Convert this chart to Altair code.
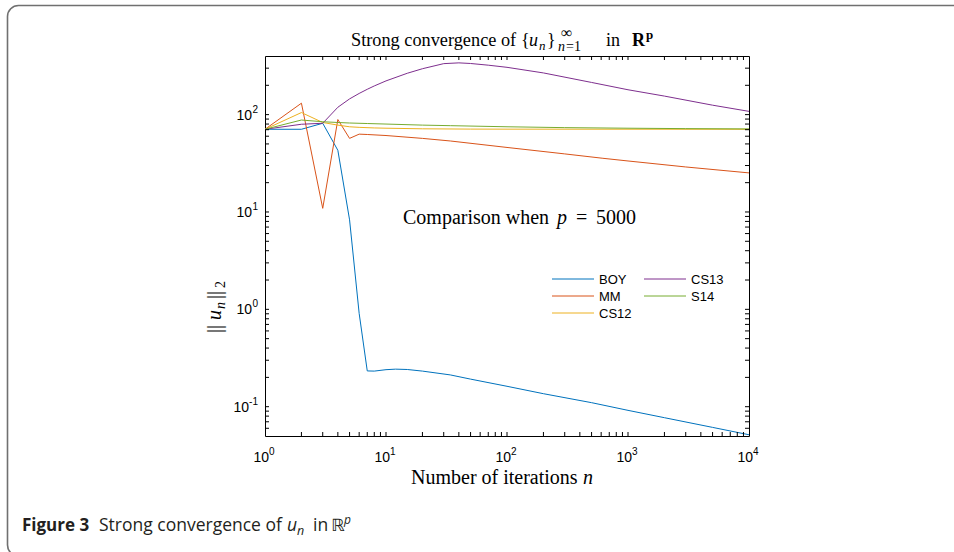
import altair as alt
import pandas as pd

# ---------------- data ----------------
names = ["BOY", "MM", "CS12", "CS13", "S14"]
colors = ["#0072BD", "#D95319", "#EDB120", "#7E2F8E", "#77AC30"]

n_boy = [1, 2, 3, 4, 5, 6, 7, 8, 10, 12, 15, 20, 34, 50, 100, 200, 500, 1000, 2000, 5000, 10000]
v_boy = [70.7, 70.7, 81.5, 43, 8.3, 0.91, 0.233, 0.232, 0.24, 0.243, 0.241, 0.232, 0.212,
         0.192, 0.162, 0.136, 0.110, 0.0917, 0.0771, 0.0613, 0.0515]

n_mm = [1, 2, 3, 4, 5, 6, 7, 10, 20, 34, 100, 300, 620, 1000, 3000, 10000]
v_mm = [70.7, 131, 10.9, 89, 57, 63, 62.5, 61, 57, 53.6, 46, 39.5, 35.6, 33.4, 29, 25.2]

n_cs12 = [1, 2, 3, 4, 5, 6, 8, 10, 20, 50, 100, 1000, 10000]
v_cs12 = [70.7, 105, 83, 78, 75, 74, 73, 72.5, 71.5, 71, 70.9, 70.8, 70.7]

n_cs13 = [1, 2, 3, 4, 5, 6, 7, 8, 10, 15, 20, 30, 40, 50, 70, 100, 200, 500, 1000, 2000, 5000, 10000]
v_cs13 = [70.7, 79.6, 81.5, 119, 145, 165, 182, 197, 222, 266, 296, 334, 340, 335, 322, 306,
          268, 214, 180, 155, 125, 108]

n_s14 = [1, 2, 3, 4, 5, 7, 10, 20, 34, 100, 300, 1000, 3000, 10000]
v_s14 = [70.7, 88, 84.5, 83, 82, 81, 80, 78, 77, 75, 73.5, 72.5, 71.8, 71.3]

x_exps = [0, 1, 2, 3, 4]
y_exps = [-1, 0, 1, 2]

# ---------------- build ----------------
W, H = 484, 380
xs = alt.Scale(type="log", domain=[1, 10000])
ys = alt.Scale(type="log", domain=[0.05, 400])

series = [("BOY", n_boy, v_boy), ("MM", n_mm, v_mm), ("CS12", n_cs12, v_cs12),
          ("CS13", n_cs13, v_cs13), ("S14", n_s14, v_s14)]
rows = []
for si, (nm, ns, vs) in enumerate(series):
    for i, (n, v) in enumerate(zip(ns, vs)):
        rows.append({"series": nm, "n": n, "v": v, "o": i, "s": si})
df = pd.DataFrame(rows)

layers = []
for si, (nm, ns, vs) in enumerate(series):
    layers.append(
        alt.Chart(df[df.series == nm]).mark_line(strokeWidth=1, clip=True, color=colors[si]).encode(
            x=alt.X("n:Q", scale=xs, axis=None),
            y=alt.Y("v:Q", scale=ys, axis=None),
            order="o:Q",
        )
    )

x_ticks = [m * 10 ** k for k in range(4) for m in range(1, 10)][1:]
y_ticks = [round(m * 10.0 ** k, 4) for k in range(-2, 3) for m in range(1, 10)]
y_ticks = [t for t in y_ticks if 0.05 < t < 400]
xt = pd.DataFrame({"t": x_ticks})
yt = pd.DataFrame({"t": y_ticks})
TL = 4
for (y1, y2) in [(H, H - TL), (0, TL)]:
    layers.append(alt.Chart(xt).mark_rule(color="black", strokeWidth=1).encode(
        x=alt.X("t:Q", scale=xs, axis=None), y=alt.value(y1), y2=alt.value(y2)))
for (x1, x2) in [(0, TL), (W, W - TL)]:
    layers.append(alt.Chart(yt).mark_rule(color="black", strokeWidth=1).encode(
        y=alt.Y("t:Q", scale=ys, axis=None), x=alt.value(x1), x2=alt.value(x2)))

SANS = "Liberation Sans"
SERIF = "Liberation Serif"
CAP = "Open Sans"

xl = pd.DataFrame({"e": x_exps, "val": [10.0 ** e for e in x_exps], "es": [str(e) for e in x_exps]})
layers.append(alt.Chart(xl).mark_text(align="right", baseline="alphabetic", dx=4, font=SANS, fontSize=14, color="black").encode(
    x=alt.X("val:Q", scale=xs, axis=None), y=alt.value(H + 26), text=alt.value("10")))
layers.append(alt.Chart(xl).mark_text(align="left", baseline="alphabetic", dx=4, font=SANS, fontSize=10, color="black").encode(
    x=alt.X("val:Q", scale=xs, axis=None), y=alt.value(H + 19), text="es:N"))

yl = pd.DataFrame({"e": y_exps, "val": [10.0 ** e for e in y_exps], "es": [str(e) for e in y_exps]})
yl_pos = yl[yl.e >= 0]
yl_neg = yl[yl.e < 0]
for sub, off in [(yl_pos, -13), (yl_neg, -16)]:
    layers.append(alt.Chart(sub).mark_text(align="right", baseline="middle", dy=1, font=SANS, fontSize=14, color="black").encode(
        y=alt.Y("val:Q", scale=ys, axis=None), x=alt.value(off), text=alt.value("10")))
layers.append(alt.Chart(yl).mark_text(align="right", baseline="middle", dy=-5, font=SANS, fontSize=10, color="black").encode(
    y=alt.Y("val:Q", scale=ys, axis=None), x=alt.value(-7), text="es:N"))

one = pd.DataFrame({"k": [0]})


def txt(s, x, y, font=SERIF, size=18, style="normal", weight="normal", angle=0, color="black"):
    kw = dict(align="left", baseline="alphabetic", font=font, fontSize=size, fontStyle=style,
              fontWeight=weight, color=color)
    if angle:
        kw["angle"] = angle
    return alt.Chart(one).mark_text(**kw).encode(x=alt.value(x), y=alt.value(y), text=alt.value(s))


# title
TY = -10
layers += [
    txt("Strong convergence of", 86, TY, size=18.3),
    txt("{", 256, TY),
    txt("u", 264, TY, style="italic"),
    txt("n", 274, TY + 4, size=13, style="italic"),
    txt("}", 282, TY),
    txt("∞", 296, TY - 8, size=16),
    txt("n", 293, TY + 5, size=14, style="italic"),
    txt("=1", 301, TY + 5, size=14),
    txt("in", 341, TY),
    txt("R", 367, TY, weight="bold"),
    txt("p", 381, TY - 7, size=13, weight="bold"),
]

# annotation
AY = 168
layers += [
    txt("Comparison when", 138, AY, size=20),
    txt("p", 292, AY, size=20, style="italic"),
    txt("=", 311, AY, size=20),
    txt("5000", 331, AY, size=20),
]

# x title
layers += [
    txt("Number of iterations", 146, 428, size=20),
    txt("n", 318, 428, size=20, style="italic"),
]

# y title (rotated)
YX = -44
layers += [
    txt("||", YX, 277, angle=270, size=20),
    txt("u", YX, 264, angle=270, size=20, style="italic"),
    txt("n", YX + 4, 253, angle=270, size=14, style="italic"),
    txt("||", YX, 243, angle=270, size=20),
    txt("2", YX + 4, 232, angle=270, size=14),
]

# legend
leg_pos = {"BOY": (287, 223), "MM": (287, 240), "CS12": (287, 257), "CS13": (379, 223), "S14": (379, 240)}
for nm, col in zip(names, colors):
    lx, ly = leg_pos[nm]
    layers.append(alt.Chart(one).mark_rule(color=col, strokeWidth=1).encode(
        x=alt.value(lx), x2=alt.value(lx + 42), y=alt.value(ly)))
    layers.append(alt.Chart(one).mark_text(align="left", baseline="middle", font=SANS, fontSize=13, color="black").encode(
        x=alt.value(lx + 47), y=alt.value(ly + 1), text=alt.value(nm)))

# caption
CY = 475
CC = "#231f20"
layers += [
    txt("Figure 3", -243, CY, font=CAP, size=17, weight="bold", color=CC),
    txt("Strong convergence of", -166, CY, font=CAP, size=17.5, color=CC),
    txt("u", 22, CY, font=CAP, size=17.5, style="italic", color=CC),
    txt("n", 32, CY + 4, font=CAP, size=12.5, style="italic", color=CC),
    txt("in", 48, CY, font=CAP, size=17.5, color=CC),
    txt("ℝ", 66, CY, font="DejaVu Sans", size=17, color=CC),
    txt("p", 79, CY - 7, font=CAP, size=12, style="italic", color=CC),
]

# outer frame
layers.insert(0, alt.Chart(one).mark_rect(fillOpacity=0, stroke="#707070", strokeWidth=1.6, cornerRadius=11).encode(
    x=alt.value(-257.5), x2=alt.value(720), y=alt.value(-50.5), y2=alt.value(500)))

chart = alt.layer(*layers).properties(
    width=W, height=H,
    autosize=alt.AutoSizeParams(type="none"),
    padding={"left": 265, "top": 56, "right": 954 - 265 - W, "bottom": 552 - 56 - H},
    background="white",
).configure_view(stroke="black", strokeWidth=1)

chart.save("out.html", embed_options={"renderer": "svg", "actions": False})
